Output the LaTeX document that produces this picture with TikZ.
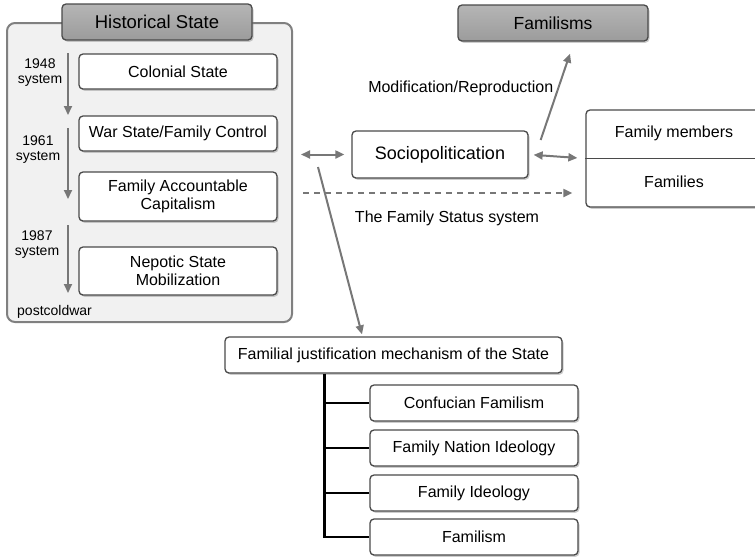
\documentclass[tikz,border=0pt]{standalone}
\usepackage{fontspec}
\setmainfont{Liberation Sans}
\usetikzlibrary{arrows.meta,positioning,calc,shadows}
\definecolor{boxline}{HTML}{4A4A4A}
\definecolor{arrowgray}{HTML}{777777}
\definecolor{panelfill}{HTML}{F1F1F1}
\definecolor{panelline}{HTML}{808080}
\tikzset{
  itembox/.style={draw=boxline, rounded corners=4pt, line width=1.3pt, fill=white,
    drop shadow={shadow xshift=1.5pt, shadow yshift=-1.8pt, opacity=0.4},
    align=center, inner sep=2pt, font=\fontsize{16}{17.5}\selectfont},
  headbox/.style={itembox, top color=gray!58, bottom color=gray!78,
    font=\fontsize{18.5}{20}\selectfont},
  panel/.style={draw=panelline, fill=panelfill, rounded corners=8pt, line width=2pt},
  flow/.style={-{Triangle[width=8pt,length=9pt]}, arrowgray, line width=2pt},
  dblflow/.style={{Triangle[width=8pt,length=9pt]}-{Triangle[width=8pt,length=9pt]}, arrowgray, line width=2pt},
  dashflow/.style={flow, dash pattern=on 6pt off 5pt},
  treeline/.style={black, line width=2.4pt},
  smalltxt/.style={font=\fontsize{14}{15}\selectfont, align=center, inner sep=0pt},
  plaintxt/.style={font=\fontsize{16}{17.5}\selectfont, text=black, inner sep=0pt},
}
\newcommand{\timeflow}[2]{\draw[flow] (#1) -- (#2);}

\begin{document}
\begin{tikzpicture}[x=1pt, y=-1pt]
  \useasboundingbox (0,0) rectangle (755,558);

  %% ---- Historical State (left panel) ----
  \node[panel, minimum width=285pt, minimum height=299pt] (panel) at (149.5,172.5) {};
  \node[headbox, minimum width=190pt, minimum height=36pt] (hist) at (157,22) {Historical State};

  \node[itembox, minimum width=198pt, minimum height=35pt] (colonial) at (178,71.5) {Colonial State};
  \node[itembox, minimum width=198pt, minimum height=35pt] (war) at (178,133.5) {War State/Family Control};
  \node[itembox, minimum width=198pt, minimum height=49pt] (capital) at (178,196.5) {Family Accountable\\Capitalism};
  \node[itembox, minimum width=198pt, minimum height=48pt] (nepotic) at (178,271) {Nepotic State\\Mobilization};

  \coordinate (t1) at (68,53);  \coordinate (t2) at (68,115);
  \coordinate (t3) at (68,128); \coordinate (t4) at (68,199);
  \coordinate (t5) at (68,225); \coordinate (t6) at (68,293);
  \timeflow{t1}{t2}
  \timeflow{t3}{t4}
  \timeflow{t5}{t6}

  \node[smalltxt] (sys48) at (40,73) {1948\\system};
  \node[smalltxt] (sys61) at (38,150) {1961\\system};
  \node[smalltxt] (sys87) at (37,245) {1987\\system};
  \node[smalltxt, anchor=west] (postcw) at (17,312) {postcoldwar};

  %% ---- Sociopolitication and Familisms ----
  \node[headbox, font=\fontsize{17.5}{19}\selectfont, minimum width=190pt, minimum height=36pt] (familisms) at (553,23) {Familisms};
  \node[itembox, font=\fontsize{18}{19}\selectfont, minimum width=176pt, minimum height=47pt] (socio) at (440,154.5) {Sociopolitication};

  %% family box, cut off by the right margin
  \node[itembox, minimum width=176pt, minimum height=97pt] (fambox) at (674,158.5) {};
  \node[plaintxt] (members) at (674,133) {Family members};
  \node[plaintxt] (families) at (674,182) {Families};
  \draw[boxline, line width=1pt] (fambox.west) -- (fambox.east);

  \draw[dblflow, shorten <=8pt, shorten >=7pt] (panel.east |- socio) -- (socio.west);
  \draw[dblflow, shorten <=5pt, shorten >=8pt] (socio.east) -- (fambox.west);

  \coordinate (modA) at ($(socio.east)+(12,-14.5)$);
  \coordinate (modB) at ($(familisms.south)+(17,12)$);
  \draw[flow] (modA) -- node[pos=0.6, left, plaintxt, xshift=-4pt] {Modification/Reproduction} (modB);

  \coordinate (statusA) at (303,193);
  \draw[dashflow, shorten >=13pt] (statusA) -- (fambox.west |- statusA);
  \node[plaintxt] (statuslbl) at (447,218) {The Family Status system};

  %% ---- Familial justification (bottom) ----
  \node[itembox, minimum width=337pt, minimum height=36pt] (justif) at (393.5,355) {Familial justification mechanism of the State};

  \coordinate (diagA) at (318,167);
  \draw[flow] (diagA) -- ($(justif.north)+(-31.5,-2)$);

  \node[itembox, minimum width=208pt, minimum height=36pt] (conf) at (474,403) {Confucian Familism};
  \node[itembox, minimum width=208pt, minimum height=36pt] (nation) at (474,448) {Family Nation Ideology};
  \node[itembox, minimum width=208pt, minimum height=36pt] (ideol) at (474,493) {Family Ideology};
  \node[itembox, minimum width=208pt, minimum height=36pt] (fam) at (474,537) {Familism};

  \coordinate (trunk) at ($(justif.south west)+(100,0)$);
  \draw[treeline] (trunk) |- (fam.west);
  \foreach \b in {conf,nation,ideol}
    \draw[treeline] (trunk |- \b.west) -- (\b.west);

\end{tikzpicture}
\end{document}
